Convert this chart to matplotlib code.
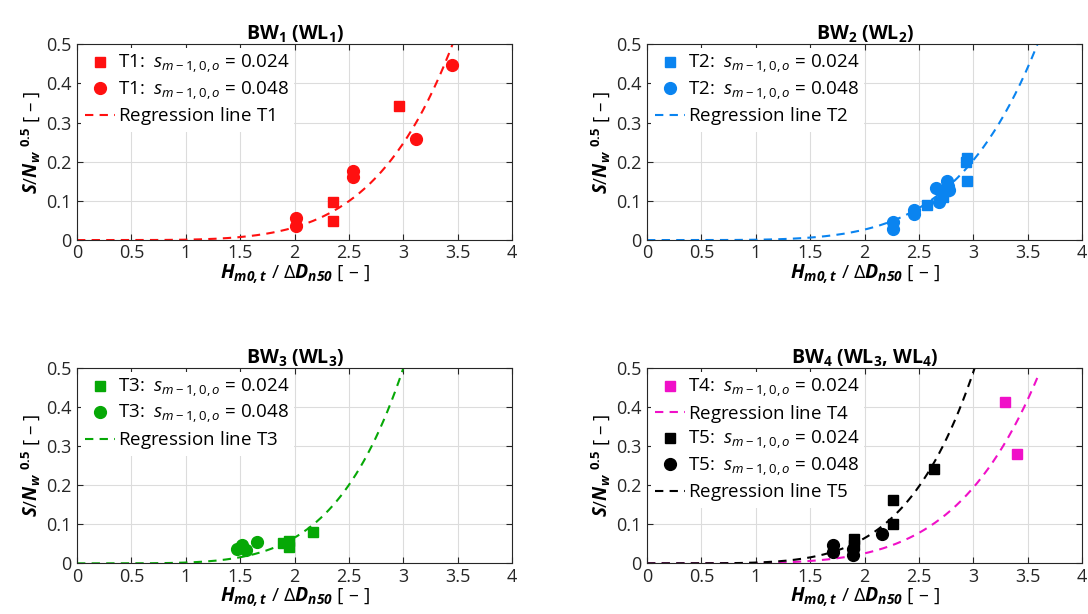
import matplotlib
matplotlib.use("Agg")

import matplotlib.pyplot as plt
import numpy as np

plt.rcParams["font.family"] = ["Open Sans", "DejaVu Sans"]
plt.rcParams["mathtext.fontset"] = "custom"
plt.rcParams["mathtext.rm"] = "Open Sans"
plt.rcParams["mathtext.it"] = "Open Sans:italic"
plt.rcParams["mathtext.bf"] = "Open Sans:bold"
plt.rcParams["mathtext.bfit"] = "Open Sans:italic:bold"

RED = "#ff1010"
BLUE = "#0a84f0"
GREEN = "#06a806"
MAGENTA = "#f010c8"
BLACK = "#000000"
AX_COLOR = "#262626"

# measured damage per test series (square: s=0.024, circle: s=0.048)
t1_sq_x = [2.35, 2.35, 2.96]
t1_sq_y = [0.096, 0.048, 0.342]
t1_ci_x = [2.01, 2.01, 2.535, 2.535, 3.12, 3.45]
t1_ci_y = [0.056, 0.037, 0.176, 0.162, 0.258, 0.446]

t2_sq_x = [2.57, 2.72, 2.74, 2.93, 2.94, 2.94]
t2_sq_y = [0.090, 0.110, 0.124, 0.200, 0.210, 0.152]
t2_ci_x = [2.26, 2.26, 2.45, 2.45, 2.66, 2.68, 2.76, 2.77, 2.78]
t2_ci_y = [0.045, 0.027, 0.078, 0.067, 0.132, 0.098, 0.150, 0.138, 0.128]

t3_sq_x = [1.89, 1.95, 1.95, 2.17]
t3_sq_y = [0.052, 0.056, 0.043, 0.080]
t3_ci_x = [1.47, 1.52, 1.55, 1.65]
t3_ci_y = [0.038, 0.046, 0.034, 0.054]

t4_sq_x = [3.29, 3.40]
t4_sq_y = [0.414, 0.280]

t5_sq_x = [1.90, 1.90, 2.26, 2.26, 2.64]
t5_sq_y = [0.062, 0.048, 0.161, 0.102, 0.242]
t5_ci_x = [1.71, 1.71, 1.89, 1.89, 2.16]
t5_ci_y = [0.047, 0.030, 0.036, 0.022, 0.075]

# regression lines S/sqrt(N) = a * (H/dD)^5
reg_a = {"T1": 0.00102, "T2": 0.00084, "T3": 0.00206, "T4": 0.00080, "T5": 0.00202}
reg_b = 5.0
reg_xmax = 3.6

x_ticks = [0, 0.5, 1, 1.5, 2, 2.5, 3, 3.5, 4]
y_ticks = [0, 0.1, 0.2, 0.3, 0.4, 0.5]

S_LABEL = r"$\mathit{s}_{\mathit{m-1,0,o}}$"
XLABEL = r"$\mathbfit{H}_{\mathbfit{m0,t}}$ / $\Delta\mathbfit{D}_{\mathbfit{n50}}$ [ – ]"
YLABEL = r"$\mathbfit{S}$/$\mathbfit{N}_{\mathbfit{w}}$ $^{\mathbf{0.5}}$ [ – ]"


def reg_curve(ax, name, color):
    xs = np.linspace(0, reg_xmax, 300)
    ys = reg_a[name] * xs ** reg_b
    ax.plot(xs, ys, ls=(0, (4, 3)), color=color, lw=1.5,
            label=r"$\mathrm{Regression\ line\ %s}$" % name, zorder=2)


def squares(ax, xs, ys, color, name):
    ax.plot(xs, ys, ls="none", marker="s", ms=7, color=color,
            label=f"{name}:  {S_LABEL} = 0.024", zorder=3)


def circles(ax, xs, ys, color, name):
    ax.plot(xs, ys, ls="none", marker="o", ms=8.5, color=color,
            label=f"{name}:  {S_LABEL} = 0.048", zorder=3)


def style(ax, title):
    ax.set_xlim(0, 4)
    ax.set_ylim(0, 0.5)
    ax.set_xticks(x_ticks, [f"{t:g}" for t in x_ticks])
    ax.set_yticks(y_ticks, [f"{t:g}" for t in y_ticks])
    ax.grid(True, color="#dcdcdc", lw=0.8)
    ax.set_axisbelow(True)
    ax.tick_params(direction="in", top=True, right=True, length=4,
                   labelsize=13, colors=AX_COLOR, width=0.8)
    ax.tick_params(axis="x", pad=3)
    ax.tick_params(axis="y", pad=4)
    for sp in ax.spines.values():
        sp.set_color(AX_COLOR)
        sp.set_linewidth(0.8)
    ax.set_title(title, fontsize=14, fontweight="bold", pad=4)
    ax.set_xlabel(XLABEL, fontsize=14, labelpad=0)
    ax.set_ylabel(YLABEL, fontsize=13.5, labelpad=2)
    leg = ax.legend(loc="upper left", fontsize=13.5, frameon=True, framealpha=1,
                    edgecolor="none", facecolor="white", handlelength=1.6,
                    handletextpad=0.15, labelspacing=0.2, borderpad=0.25,
                    borderaxespad=0.2)
    leg.set_zorder(5)


fig = plt.figure(figsize=(10.88, 6.14), dpi=100)
ax1 = fig.add_axes([0.0708, 0.609, 0.40, 0.319])
ax2 = fig.add_axes([0.5947, 0.609, 0.40, 0.319])
ax3 = fig.add_axes([0.0708, 0.0825, 0.40, 0.318])
ax4 = fig.add_axes([0.5947, 0.0825, 0.40, 0.318])

squares(ax1, t1_sq_x, t1_sq_y, RED, "T1")
circles(ax1, t1_ci_x, t1_ci_y, RED, "T1")
reg_curve(ax1, "T1", RED)
style(ax1, r"BW$_\mathbf{1}$ (WL$_\mathbf{1}$)")

squares(ax2, t2_sq_x, t2_sq_y, BLUE, "T2")
circles(ax2, t2_ci_x, t2_ci_y, BLUE, "T2")
reg_curve(ax2, "T2", BLUE)
style(ax2, r"BW$_\mathbf{2}$ (WL$_\mathbf{2}$)")

squares(ax3, t3_sq_x, t3_sq_y, GREEN, "T3")
circles(ax3, t3_ci_x, t3_ci_y, GREEN, "T3")
reg_curve(ax3, "T3", GREEN)
style(ax3, r"BW$_\mathbf{3}$ (WL$_\mathbf{3}$)")

squares(ax4, t4_sq_x, t4_sq_y, MAGENTA, "T4")
reg_curve(ax4, "T4", MAGENTA)
squares(ax4, t5_sq_x, t5_sq_y, BLACK, "T5")
circles(ax4, t5_ci_x, t5_ci_y, BLACK, "T5")
reg_curve(ax4, "T5", BLACK)
style(ax4, r"BW$_\mathbf{4}$ (WL$_\mathbf{3}$, WL$_\mathbf{4}$)")

fig.savefig("out.png", dpi=100)
plt.close(fig)
